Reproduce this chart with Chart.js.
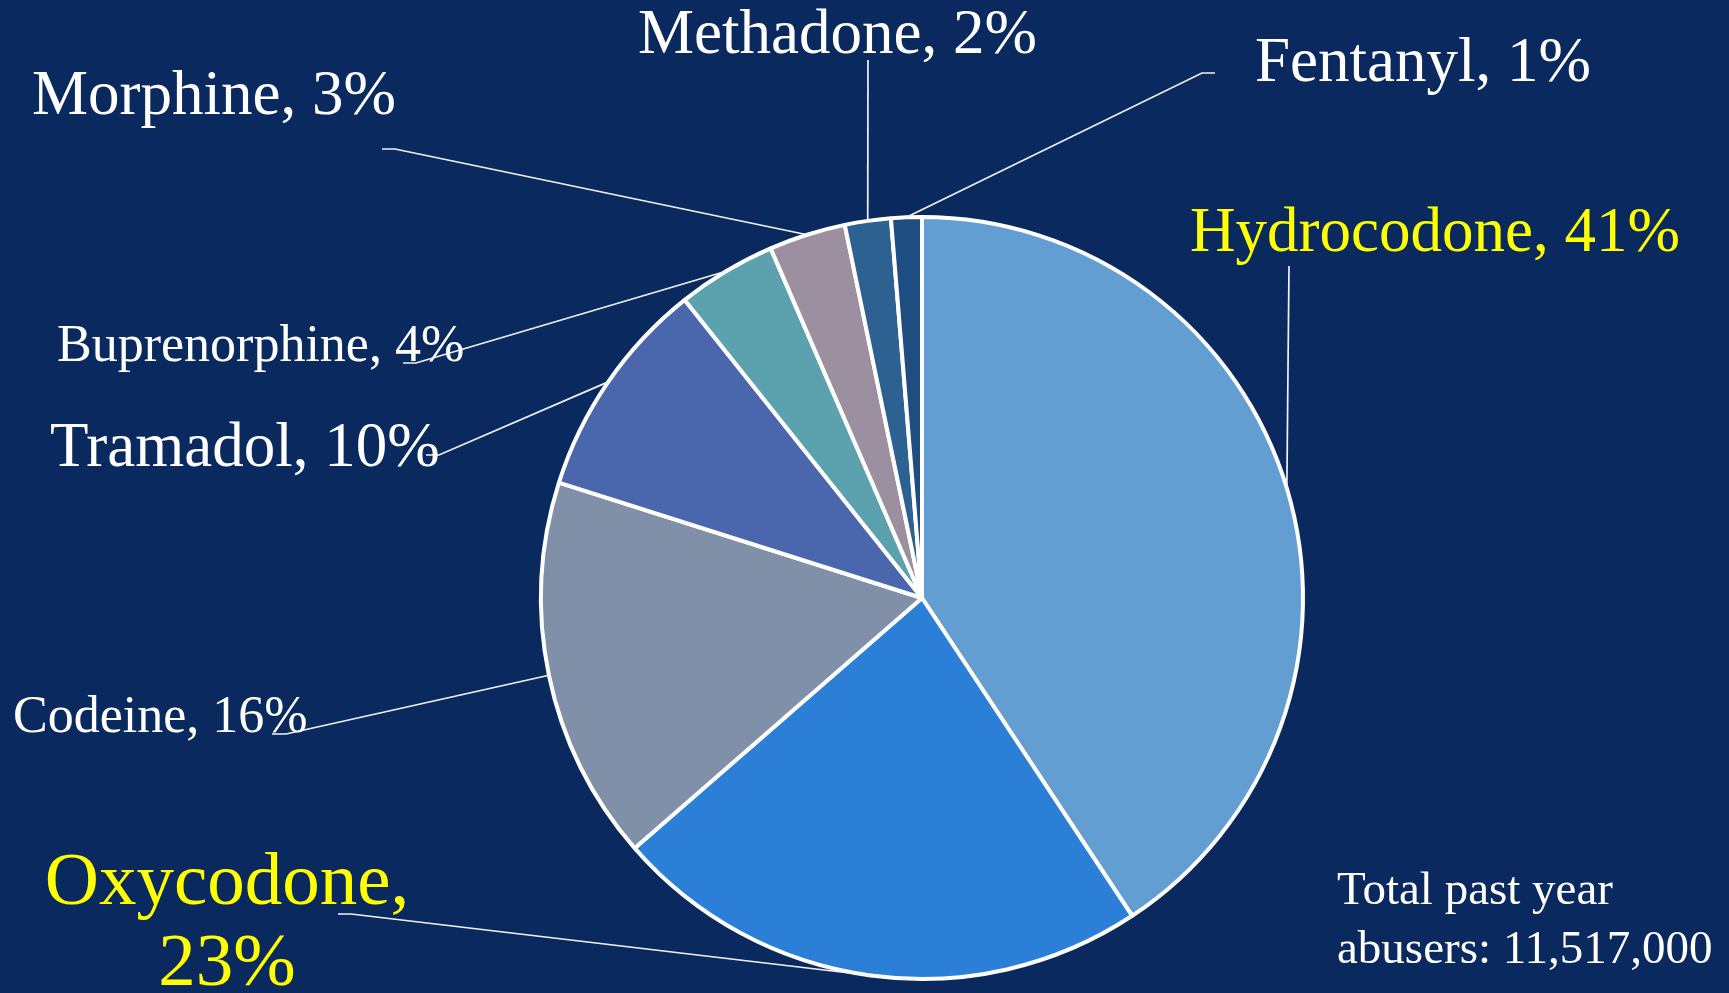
<!DOCTYPE html>
<html>
<head>
<meta charset="utf-8">
<script src="https://cdn.jsdelivr.net/npm/chart.js@4.4.1/dist/chart.umd.min.js"></script>
<style>
    html, body { margin: 0; padding: 0; background: #0A2A5F; overflow: hidden; }
    #wrap { width: 1729px; height: 993px; position: relative; }
</style>
</head>
<body>
<div id="wrap"><canvas id="myChart"></canvas></div>
<script>
const drugs = ['Hydrocodone', 'Oxycodone', 'Codeine', 'Tramadol', 'Buprenorphine', 'Morphine', 'Methadone', 'Fentanyl'];
// slice sizes as drawn in the picture, and the rounded percents printed in the labels
const sliceShares = [40.7, 22.9, 16.3, 9.4, 4.2, 3.25, 1.95, 1.3];
const labelPercents = [41, 23, 16, 10, 4, 3, 2, 1];
const sliceColors = ['#629ED2', '#2B7FD7', '#8090A9', '#4A66AD', '#5BA2AE', '#9C8FA0', '#2D6191', '#1E4D81'];
const totalNote = ['Total past year', 'abusers: 11,517,000'];

// where each callout sits: text anchor, size, colour, leader elbow points
const calloutLayout = [
    { x: 1190, y: 251, size: 63, color: '#FFFF00', align: 'left', leader: [[1289, 266]] },
    { x: 227, y: 904, size: 75, color: '#FFFF00', align: 'center', wrap: true, lineGap: 81, leader: [[338, 914], [351, 914]] },
    { x: 13, y: 732, size: 52, color: '#FFFFFF', align: 'left', leader: [[272, 734], [286, 734]] },
    { x: 50, y: 466, size: 63, color: '#FFFFFF', align: 'left', leader: [[426, 455], [439, 455]] },
    { x: 57, y: 361, size: 52, color: '#FFFFFF', align: 'left', leader: [[403, 363], [416, 363]] },
    { x: 32, y: 114, size: 63, color: '#FFFFFF', align: 'left', leader: [[382, 149], [395, 149]] },
    { x: 638, y: 53, size: 63, color: '#FFFFFF', align: 'left', leader: [[868, 60]] },
    { x: 1255, y: 81, size: 63, color: '#FFFFFF', align: 'left', leader: [[1215, 73], [1202, 73]] }
];

const serif = '"Liberation Serif", "Times New Roman", serif';

const calloutPlugin = {
    id: 'callouts',
    afterDatasetsDraw(chart) {
        const ctx = chart.ctx;
        const arcs = chart.getDatasetMeta(0).data;
        ctx.save();
        arcs.forEach((arc, i) => {
            const p = arc.getProps(['x', 'y', 'startAngle', 'endAngle', 'outerRadius'], true);
            const c = calloutLayout[i];
            const a = (p.startAngle + p.endAngle) / 2;
            const ex = p.x + Math.cos(a) * p.outerRadius;
            const ey = p.y + Math.sin(a) * p.outerRadius;

            ctx.strokeStyle = '#F2F2F2';
            ctx.lineWidth = 1.7;
            ctx.beginPath();
            ctx.moveTo(c.leader[0][0], c.leader[0][1]);
            c.leader.slice(1).forEach(pt => ctx.lineTo(pt[0], pt[1]));
            ctx.lineTo(ex, ey);
            ctx.stroke();

            ctx.font = `${c.size}px ${serif}`;
            ctx.fillStyle = c.color;
            ctx.textAlign = c.align;
            ctx.textBaseline = 'alphabetic';
            const lines = c.wrap
                ? [drugs[i] + ',', labelPercents[i] + '%']
                : [drugs[i] + ', ' + labelPercents[i] + '%'];
            lines.forEach((t, k) => ctx.fillText(t, c.x, c.y + k * (c.lineGap || 0)));
        });

        ctx.font = `47px ${serif}`;
        ctx.fillStyle = '#FFFFFF';
        ctx.textAlign = 'left';
        totalNote.forEach((t, k) => ctx.fillText(t, 1337, 904 + k * 59));
        ctx.restore();
    }
};

function buildGraphic() {
    const ctx = document.getElementById('myChart').getContext('2d');

    const data = {
        labels: drugs,
        datasets: [{
            data: sliceShares,
            backgroundColor: sliceColors,
            borderColor: '#FFFFFF',
            borderWidth: 4
        }]
    };

    const config = {
        type: 'pie',
        data: data,
        options: {
            responsive: true,
            maintainAspectRatio: false,
            animation: false,
            layout: {
                padding: { top: 215, bottom: 12, left: 539, right: 424 }
            },
            plugins: {
                legend: { display: false },
                tooltip: { enabled: false }
            }
        },
        plugins: [calloutPlugin]
    };

    const myChart = new Chart(ctx, config);
}

buildGraphic();
</script>
</body>
</html>
